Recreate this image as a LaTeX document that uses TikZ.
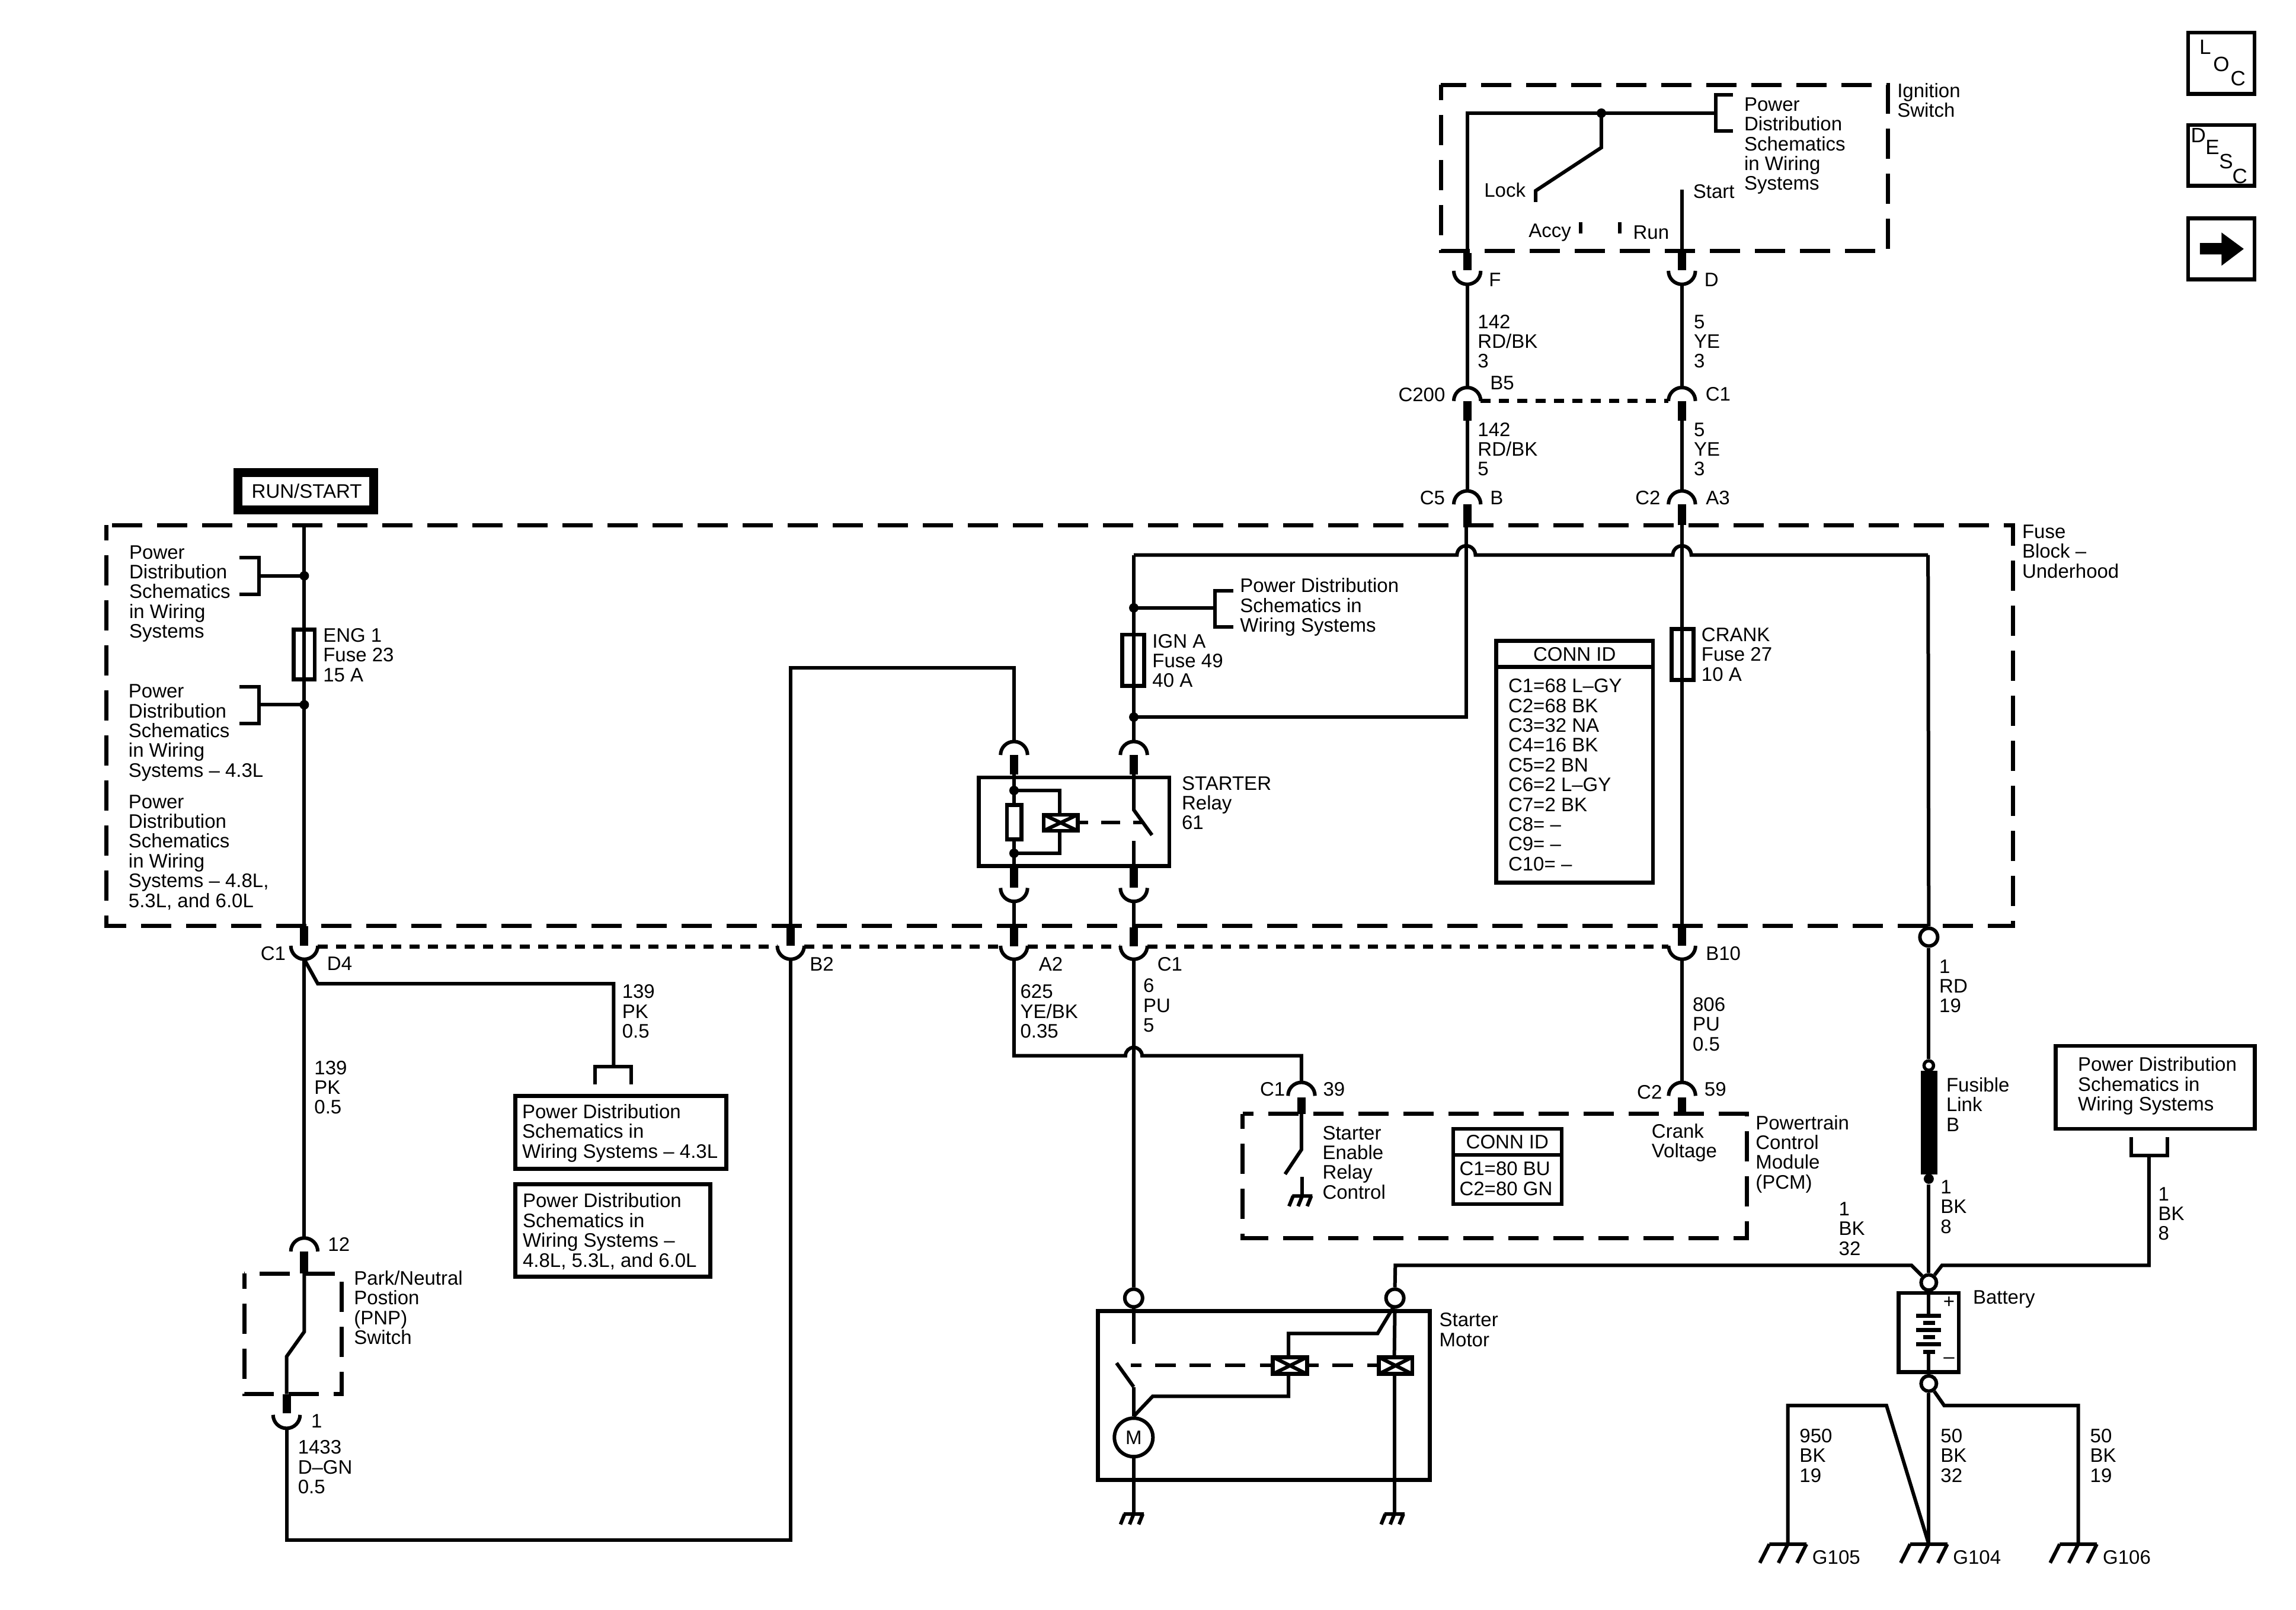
\documentclass[tikz,border=0pt]{standalone}
\usepackage{fontspec}
\setmainfont{Liberation Sans}
\tikzset{
  x=0.49413pt,y=-0.49413pt,
  wire/.style={line width=1.2pt,line cap=butt,line join=miter},
  thickbar/.style={line width=2.8pt},
  boxline/.style={line width=1.35pt},
  longdash/.style={line width=1.4pt,dash pattern=on 10.2pt off 5pt,dash phase=5.1pt},
  shortdash/.style={line width=1.3pt,dash pattern=on 3.4pt off 2.8pt},
  txt/.style={font=\fontsize{6.6}{6.68}\selectfont,inner sep=0pt,outer sep=0pt,anchor=base west,align=left},
  ctxt/.style={font=\fontsize{6.6}{6.68}\selectfont,inner sep=0pt,outer sep=0pt,anchor=center,align=center},
  ictxt/.style={font=\fontsize{7}{7}\selectfont,inner sep=0pt,outer sep=0pt,anchor=center},
  jdot/.style={circle,fill=black,inner sep=0pt,minimum size=3.2pt},
  term/.style={circle,draw=black,fill=white,line width=1.2pt,inner sep=0pt,minimum size=6pt},
  termsm/.style={circle,draw=black,fill=white,line width=1.1pt,inner sep=0pt,minimum size=3.2pt},
  gndline/.style={line width=1.2pt},
}
\newcommand\lbl[4]{\node[txt] (#1) at (#2,{#3+4.7}) {#4};}
\newcommand\cupdn[3]{\draw[wire] (#2-9.2,#3) arc[start angle=180,end angle=360,radius=4.55pt];\coordinate (#1) at (#2,#3+9.3);}
\newcommand\archup[3]{\draw[wire] (#2-9.2,#3) arc[start angle=180,end angle=0,radius=4.55pt];\coordinate (#1) at (#2,#3-9.3);}
\newcommand\vbar[3]{\draw[thickbar] (#1,#2) -- (#1,#3);}
\newcommand\fuse[4]{\draw[boxline] (#1,#3) rectangle (#2,#4);}
\newcommand\coil[4]{\draw[boxline] (#1,#3) rectangle (#2,#4);\draw[wire] (#1,#3) -- (#2,#4) (#1,#4) -- (#2,#3);}
\newcommand\biggnd[2]{\draw[gndline] (#1-12.7,#2) -- (#1+12.7,#2) (#1-12.7,#2) -- (#1-19.2,#2+12.8) (#1,#2) -- (#1-6.5,#2+12.8) (#1+12.7,#2) -- (#1+6.2,#2+12.8);}
\newcommand\smallgnd[2]{\draw[gndline] (#1-6.8,#2) -- (#1+7,#2) (#1-6.2,#2) -- (#1-9,#2+7) (#1,#2) -- (#1-2.8,#2+7) (#1+6.2,#2) -- (#1+3.4,#2+7);}
\begin{document}
\begin{tikzpicture}
\useasboundingbox (0,0) rectangle (1568,1099.66);
\fill[white] (0,0) rectangle (1568,1099.66);

% ---------- icons
\draw[boxline,line width=1.35pt] (1494.3,22.3) rectangle (1539.6,64);
\draw[boxline,line width=1.35pt] (1494.3,85.4) rectangle (1539.6,127);
\draw[boxline,line width=1.35pt] (1494.3,149.2) rectangle (1539.6,190.7);
\node[ictxt] (locL) at (1506,32.3) {L};
\node[ictxt] (locO) at (1517,43.7) {O};
\node[ictxt] (locC) at (1528.4,53.7) {C};
\node[ictxt] (descD) at (1501.3,92.3) {D};
\node[ictxt] (descE) at (1510.9,100.4) {E};
\node[ictxt] (descS) at (1520.2,110.3) {S};
\node[ictxt] (descC) at (1529.6,120.4) {C};
\fill (1502.4,166) -- (1517.1,166) -- (1517.1,158.8) -- (1532.3,170) -- (1517.1,181.5) -- (1517.1,173.8) -- (1502.4,173.8) -- cycle;

% ---------- dashed housings
\draw[longdash] (984.1,58) rectangle (1289.2,171.6);
\draw[longdash] (72.8,358.7) rectangle (1374.9,632.4);
\draw[longdash] (848.6,760.9) rectangle (1192.8,845.9);
\draw[longdash] (166.8,869.8) rectangle (233.3,952.2);

% ---------- ignition switch
\coordinate (ignL) at (1002,172.7);
\coordinate (ignTL) at (1002,77.3);
\coordinate (ignBrk) at (1171.8,77.3);
\node[jdot] (ignJ) at (1093.6,77.3) {};
\coordinate (ignS1) at (1093.6,100.8);
\coordinate (ignS2) at (1048.7,130.3);
\coordinate (ignS3) at (1048.7,138);
\coordinate (startT) at (1148.6,129.7);
\coordinate (startB) at (1148.6,172.7);
\draw[wire] (ignL) -- (ignTL) -- (ignBrk);
\draw[wire] (ignJ.center) -- (ignS1) -- (ignS2) -- (ignS3);
\draw[wire] (startT) -- (startB);
\draw[wire] (1183.4,64.9) -- (1171.8,64.9) -- (1171.8,89.4) -- (1183.4,89.4);
\draw[wire] (1079.4,151.6) -- (1079.4,159.3);
\draw[wire] (1106.2,151.6) -- (1106.2,159.3);
\lbl{tIgn}{1295.7}{75.2}{Ignition\\Switch}
\lbl{tPD1}{1191.2}{125.2}{Power\\Distribution\\Schematics\\in Wiring\\Systems}
\lbl{tLock}{1013.6}{129.7}{Lock}
\lbl{tAccy}{1044}{157.2}{Accy}
\lbl{tRun}{1115.3}{158.6}{Run}
\lbl{tStart}{1156.3}{130.8}{Start}

% ---------- F / D to C200 to C5/C2
\vbar{1002}{172.7}{184.4}\vbar{1148.6}{172.7}{184.4}
\cupdn{Fb}{1002}{185}\cupdn{Db}{1148.6}{185}
\archup{B5t}{1002}{273.9}\archup{C1t}{1148.6}{273.9}
\draw[wire] (Fb) -- (B5t);
\draw[wire] (Db) -- (C1t);
\coordinate (B5r) at (1011.2,273.9);
\coordinate (C1l) at (1139.4,273.9);
\draw[shortdash] (B5r) -- (C1l);
\vbar{1002}{273.9}{287.3}\vbar{1148.6}{273.9}{287.3}
\archup{C5t}{1002}{344.5}\archup{C2t}{1148.6}{344.5}
\coordinate (B5b) at (1002,287.3);
\coordinate (C1b) at (1148.6,287.3);
\draw[wire] (B5b) -- (C5t);
\draw[wire] (C1b) -- (C2t);
\vbar{1002}{344.5}{358.5}\vbar{1148.6}{344.5}{358.5}
\lbl{tF}{1016.9}{190.9}{F}
\lbl{tD}{1164}{190.9}{D}
\lbl{t142a}{1009.2}{246.6}{142\\RD/BK\\3}
\lbl{t5a}{1156.8}{246.6}{5\\YE\\3}
\lbl{tC200}{955}{269.7}{C200}
\lbl{tB5}{1017.7}{261.5}{B5}
\lbl{tC1a}{1164.8}{269}{C1}
\lbl{t142b}{1009.2}{320.3}{142\\RD/BK\\5}
\lbl{t5b}{1156.8}{320.3}{5\\YE\\3}
\lbl{tC5}{969.7}{340}{C5}
\lbl{tB}{1017.7}{340}{B}
\lbl{tC2}{1116.8}{340}{C2}
\lbl{tA3}{1165}{340}{A3}
\lbl{tFB}{1381}{390}{Fuse\\Block --\\Underhood}

% ---------- RUN/START
\draw[line width=3pt] (162.5,322.8) rectangle (255.2,348.3);
\node[ctxt] (tRS) at (209.5,335.6) {RUN/START};

% ---------- ENG 1 column
\coordinate (engT) at (207.8,358.9);
\node[jdot] (engJ1) at (207.8,393.3) {};
\node[jdot] (engJ2) at (207.8,481.4) {};
\coordinate (engB) at (207.8,632.7);
\draw[wire] (engT) -- (engB);
\draw[wire] (engJ1.center) -- (176.8,393.3);
\draw[wire] (engJ2.center) -- (176.8,481.4);
\draw[wire] (163.7,380.9) -- (176.8,380.9) -- (176.8,406.1) -- (163.7,406.1);
\draw[wire] (163.7,468.9) -- (176.8,468.9) -- (176.8,494) -- (163.7,494);
\fuse{200.5}{214.9}{430}{464}
\lbl{tPD2}{88.3}{431.1}{Power\\Distribution\\Schematics\\in Wiring\\Systems}
\lbl{tPD3}{87.8}{526}{Power\\Distribution\\Schematics\\in Wiring\\Systems -- 4.3L}
\lbl{tPD4}{87.8}{615}{Power\\Distribution\\Schematics\\in Wiring\\Systems -- 4.8L,\\5.3L, and 6.0L}
\lbl{tENG}{220.7}{460.8}{ENG 1\\Fuse 23\\15 A}

% ---------- bus bar in fuse block
\coordinate (busL) at (774.3,379.1);
\coordinate (busR) at (1316.7,379.1);
\draw[wire] (busL) -- (995,379.1) arc[start angle=180,end angle=0,radius=3.11pt] -- (1142.4,379.1) arc[start angle=180,end angle=0,radius=3.11pt] -- (busR);
\coordinate (w142B) at (1001.2,358.5);
\coordinate (w142C) at (1001.2,489.8);
\node[jdot] (ignJ1) at (774.3,415.2) {};
\node[jdot] (ignJ2) at (774.3,489.8) {};
\draw[wire] (w142B) -- (w142C) -- (ignJ2.center);
\coordinate (w5B) at (1148.7,358.5);
\coordinate (w5C) at (1148.7,632.7);
\draw[wire] (w5B) -- (w5C);
\archup{relRt}{774.3}{515.7}
\draw[wire] (busL) -- (relRt);
\draw[wire] (ignJ1.center) -- (829.6,415.2);
\draw[wire] (842.2,403.4) -- (829.6,403.4) -- (829.6,428.4) -- (842.2,428.4);
\fuse{766.5}{781.3}{433.5}{468.5}
\fuse{1141.6}{1156.5}{429.6}{464.3}
\lbl{tPD5}{846.9}{427}{Power Distribution\\Schematics in\\Wiring Systems}
\lbl{tIGN}{787}{464.8}{IGN A\\Fuse 49\\40 A}
\lbl{tCRANK}{1162}{460.4}{CRANK\\Fuse 27\\10 A}

% ---------- CONN ID (fuse block)
\draw[boxline] (1021.8,437.8) rectangle (1128.8,603);
\draw[boxline] (1021.8,455.6) -- (1128.8,455.6);
\node[ctxt] (tCI1) at (1075.3,446.9) {CONN ID};
\lbl{tCI1b}{1030.1}{590}{C1=68 L--GY\\C2=68 BK\\C3=32 NA\\C4=16 BK\\C5=2 BN\\C6=2 L--GY\\C7=2 BK\\C8= --\\C9= --\\C10= --}

% ---------- starter relay
\archup{relLt}{692.5}{515.7}
\coordinate (relLw) at (692.5,456);
\coordinate (relLw2) at (540,456);
\coordinate (b2bar) at (540,632.7);
\draw[wire] (relLt) -- (relLw) -- (relLw2) -- (b2bar);
\vbar{692.5}{515.7}{528.9}\vbar{774.3}{515.7}{528.9}
\draw[boxline] (668.5,531) rectangle (798.6,591.5);
\node[jdot] (relJ1) at (692.5,539.9) {};
\node[jdot] (relJ2) at (692.5,582.8) {};
\draw[wire] (692.5,528.9) -- (692.5,592.3);
\draw[boxline,fill=white] (687.7,549.7) rectangle (697.6,573.4);
\coil{712.8}{735.9}{556.5}{567.4}
\draw[wire] (relJ1.center) -- (723.5,539.9) -- (723.5,555.5);
\draw[wire] (relJ2.center) -- (723.5,582.8) -- (723.5,568.4);
\draw[wire] (736.5,561.9) -- (743,561.9) (752,561.9) -- (764.8,561.9) (773.8,561.9) -- (780.8,561.9);
\draw[wire] (774.3,528.9) -- (774.3,553.2) -- (786.7,570.4);
\draw[wire] (774.3,574.5) -- (774.3,592.3);
\vbar{692.5}{592.3}{606.5}\vbar{774.3}{592.3}{606.5}
\cupdn{relLb}{692.5}{606.5}\cupdn{relRb}{774.3}{606.5}
\vbar{692.5}{633.4}{646.2}\vbar{774.3}{633.4}{646.2}
\coordinate (relLc) at (692.5,633.4);
\coordinate (relRc) at (774.3,633.4);
\draw[wire] (relLb) -- (relLc);
\draw[wire] (relRb) -- (relRc);
\lbl{tSTR}{807.1}{561.9}{STARTER\\Relay\\61}

% ---------- lower connector row
\vbar{207.8}{632.7}{646}\vbar{540}{632.7}{646}\vbar{1148.7}{632.7}{646}
\cupdn{c1b}{207.8}{646}\cupdn{b2b}{540}{646}\cupdn{a2b}{692.5}{646}\cupdn{c1r}{774.3}{646}\cupdn{b10b}{1148.7}{646}
\draw[shortdash] (217,646.5) -- (530.8,646.5);
\draw[shortdash] (549.2,646.5) -- (683.3,646.5);
\draw[shortdash] (701.7,646.5) -- (765.1,646.5);
\draw[shortdash] (783.5,646.5) -- (1139.5,646.5);
\lbl{tC1b}{178}{651}{C1}
\lbl{tD4}{223.4}{658.2}{D4}
\lbl{tB2}{553}{658.4}{B2}
\lbl{tA2}{709.5}{658.4}{A2}
\lbl{tC1c}{790.4}{658.4}{C1}
\lbl{tB10}{1165}{651}{B10}

% ---------- 139 / PNP
\archup{pnpT}{207.8}{854.8}
\draw[wire] (c1b) -- (pnpT);
\coordinate (d1) at (217,671.9);
\coordinate (d2) at (419.1,671.9);
\coordinate (d3) at (419.1,728.7);
\draw[wire] (c1b) -- (d1) -- (d2) -- (d3);
\draw[wire] (406.4,740.6) -- (406.4,728.7) -- (431.2,728.7) -- (431.2,740.6);
\lbl{t139a}{214.7}{756.2}{139\\PK\\0.5}
\lbl{t139b}{424.9}{704.2}{139\\PK\\0.5}
\draw[boxline] (351.9,748.5) rectangle (496,798.5);
\draw[boxline] (351.9,809) rectangle (485,872);
\lbl{tPDb1}{356.6}{786.3}{Power Distribution\\Schematics in\\Wiring Systems -- 4.3L}
\lbl{tPDb2}{357}{860.7}{Power Distribution\\Schematics in\\Wiring Systems --\\4.8L, 5.3L, and 6.0L}
\vbar{207.8}{854.8}{869.8}
\coordinate (p1) at (207.8,869.8);
\coordinate (p2) at (207.8,909.6);
\coordinate (p3) at (195.7,926.6);
\coordinate (p4) at (195.7,952.2);
\draw[wire] (p1) -- (p2) -- (p3) -- (p4);
\vbar{195.7}{952.2}{965.5}
\cupdn{p5}{195.7}{966.4}
\coordinate (p6) at (195.7,1052);
\coordinate (p7) at (540,1052);
\draw[wire] (p5) -- (p6) -- (p7) -- (b2b);
\lbl{t12}{224}{850}{12}
\lbl{tPNP}{241.8}{913.5}{Park/Neutral\\Postion\\(PNP)\\Switch}
\lbl{t1a}{212.5}{970.6}{1}
\lbl{t1433}{203.5}{1015.5}{1433\\D--GN\\0.5}

% ---------- 625 / 6 wires
\coordinate (w625) at (692.5,721.1);
\coordinate (w625r) at (888.8,721.1);
\coordinate (hopL) at (768.6,721.1);
\archup{c139}{888.8}{748.5}
\draw[wire] (a2b) -- (w625) -- (hopL) arc[start angle=180,end angle=0,radius=2.8pt] -- (w625r) -- (c139);
\node[term] (stT1) at (774.2,886.6) {};
\draw[wire] (c1r) -- (stT1);
\lbl{t625}{696.8}{704.3}{625\\YE/BK\\0.35}
\lbl{t6}{780.8}{700.2}{6\\PU\\5}
\vbar{888.8}{749.5}{760.9}
\draw[wire] (888.8,760.9) -- (888.8,785.2) -- (877.6,802);
\draw[wire] (889.3,803.8) -- (889.3,816.9);
\smallgnd{889.3}{816.9}
\lbl{tC1d}{860.5}{744}{C1}
\lbl{t39}{903.6}{744}{39}
\lbl{tSE}{903.2}{814.2}{Starter\\Enable\\Relay\\Control}

% ---------- PCM
\draw[boxline] (992.4,771) rectangle (1066.5,822.4);
\draw[boxline] (992.4,788.8) -- (1066.5,788.8);
\node[ctxt] (tCI2) at (1029.4,779.9) {CONN ID};
\lbl{tCI2b}{996.7}{811.8}{C1=80 BU\\C2=80 GN}
\archup{c59}{1148.7}{748.5}
\draw[wire] (b10b) -- (c59);
\vbar{1148.7}{749.5}{760.9}
\lbl{t806}{1156}{713}{806\\PU\\0.5}
\lbl{tC2b}{1118}{746}{C2}
\lbl{t59}{1164}{744}{59}
\lbl{tCV}{1128}{786}{Crank\\Voltage}
\lbl{tPCM}{1199}{807.3}{Powertrain\\Control\\Module\\(PCM)}

% ---------- starter motor
\draw[boxline] (749.9,895.5) rectangle (976.3,1010.8);
\node[term] (stT2) at (952.6,886.6) {};
\coordinate (m1) at (774.2,893);
\coordinate (m2) at (774.2,917.9);
\draw[wire] (m1) -- (m2);
\draw[wire] (762.5,931) -- (774.2,947.3);
\node[circle,draw=black,fill=white,line width=1.2pt,minimum size=13pt,inner sep=0pt,font=\fontsize{6.6}{6.68}\selectfont] (motor) at (774.2,981.8) {M};
\draw[wire] (774.2,947.3) -- (motor.north);
\draw[wire] (motor.north) -- (787.2,953.7) -- (880,953.7) -- (880,939);
\draw[wire] (motor.south) -- (774.2,1034.2);
\smallgnd{774.2}{1034.2}
\coil{869.3}{892.6}{927}{938.5}
\coil{941.6}{964.5}{927}{938.5}
\draw[wire] (880,927) -- (880,910.8) -- (940.8,910.8) -- (951.5,893);
\draw[wire] (stT2.south) -- (952.2,927);
\draw[wire] (952.2,938.5) -- (952.2,1034.2);
\smallgnd{952.2}{1034.2}
\draw[wire] (772.4,932.7) -- (779.6,932.7) (789,932.7) -- (803,932.7) (812.5,932.7) -- (827,932.7) (836.6,932.7) -- (850.5,932.7) (860.4,932.7) -- (868.5,932.7) (893.4,932.7) -- (900.5,932.7) (910,932.7) -- (924,932.7) (933.6,932.7) -- (941,932.7);
\lbl{tSM}{983}{915}{Starter\\Motor}

% ---------- fusible link, battery
\node[term] (tm1) at (1317.2,640.1) {};
\draw[wire] (busR) -- (tm1);
\node[termsm] (flT) at (1317.2,727.8) {};
\draw[wire] (tm1) -- (flT);
\draw[fill=black,draw=none] (1311.6,731.2) rectangle (1323,802.1);
\node[jdot,minimum size=3.4pt] (flB) at (1317.2,805.2) {};
\node[term,minimum size=5.2pt] (bp) at (1317.2,876) {};
\draw[wire] (flB) -- (bp);
\coordinate (wL1) at (952.9,864.3);
\coordinate (wL2) at (1305.4,864.3);
\draw[wire] (stT2.north) -- (wL1) -- (wL2) -- (bp);
\coordinate (wR1) at (1326.2,864.3);
\coordinate (wR2) at (1467.5,864.3);
\coordinate (wR3) at (1467.5,789.2);
\draw[wire] (bp) -- (wR1) -- (wR2) -- (wR3);
\draw[wire] (1455.5,776.5) -- (1455.5,789.2) -- (1480,789.2) -- (1480,776.5);
\draw[boxline] (1403.9,714.4) rectangle (1539.7,771);
\lbl{tPDb3}{1419.1}{754.1}{Power Distribution\\Schematics in\\Wiring Systems}
\lbl{t1rd}{1324.4}{687}{1\\RD\\19}
\lbl{tFL}{1329.2}{768}{Fusible\\Link\\B}
\lbl{t1bk}{1325.3}{837.7}{1\\BK\\8}
\lbl{t1bk2}{1473.9}{842.4}{1\\BK\\8}
\lbl{t1bk3}{1255.8}{852.7}{1\\BK\\32}

\draw[boxline] (1296.7,883.1) rectangle (1337.7,937.2);
\draw[wire] (bp) -- (1317.2,898.8);
\draw[line width=1.35pt] (1308.7,898.8) -- (1325.7,898.8) (1308.7,908.5) -- (1325.7,908.5) (1308.7,918.2) -- (1325.7,918.2);
\draw[line width=1.35pt] (1313.2,903.7) -- (1321.4,903.7) (1313.2,913.4) -- (1321.4,913.4) (1313.2,923.3) -- (1321.4,923.3);
\node[term,minimum size=5.2pt] (bm) at (1317.2,945) {};
\draw[wire] (1317.2,923.3) -- (bm);
\node[ctxt] (tPlus) at (1331,889.5) {+};
\node[ctxt] (tMinus) at (1331,929) {--};
\lbl{tBat}{1347.4}{885.9}{Battery}

\coordinate (g4) at (1317.2,1054.7);
\coordinate (g6) at (1419.3,1054.7);
\coordinate (g5) at (1221,1054.7);
\draw[wire] (bm) -- (g4);
\coordinate (r1) at (1327.7,960);
\coordinate (r2) at (1419.3,960);
\draw[wire] (bm) -- (r1) -- (r2) -- (g6);
\coordinate (l1) at (1221,960);
\coordinate (l2) at (1288.3,960);
\draw[wire] (g5) -- (l1) -- (l2) -- (g4);
\biggnd{1221}{1054.7}
\biggnd{1317.2}{1054.7}
\biggnd{1419.3}{1054.7}
\lbl{t950}{1229}{1007.7}{950\\BK\\19}
\lbl{t50a}{1325.3}{1007.7}{50\\BK\\32}
\lbl{t50b}{1427.4}{1007.7}{50\\BK\\19}
\lbl{tG105}{1237.7}{1063.5}{G105}
\lbl{tG104}{1333.8}{1063.5}{G104}
\lbl{tG106}{1436.1}{1063.5}{G106}
\end{tikzpicture}
\end{document}
